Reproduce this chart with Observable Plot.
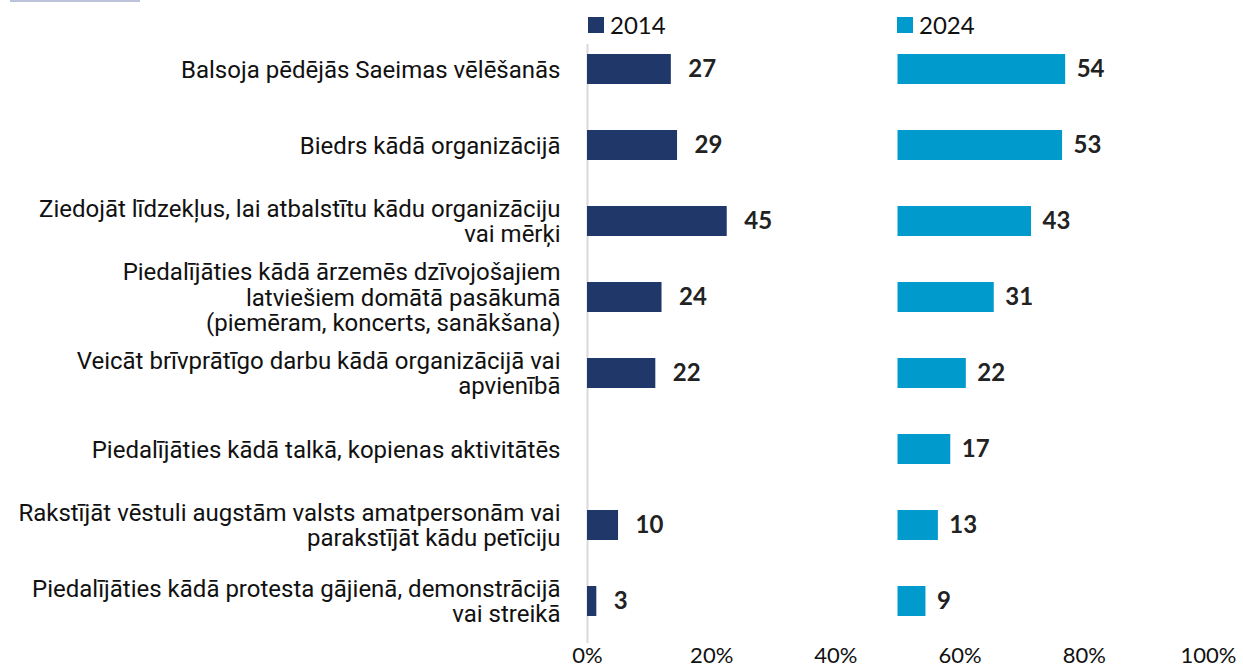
<!DOCTYPE html>
<html>
<head>
<meta charset="utf-8">
<script src="https://cdn.jsdelivr.net/npm/d3@7"></script>
<script src="https://cdn.jsdelivr.net/npm/@observablehq/plot@0.6"></script>
<style>
  html, body { margin: 0; padding: 0; background: #fff; }
  #wrap { position: relative; width: 1243px; height: 670px; overflow: hidden; }
  #topline { position: absolute; left: 10px; top: 0; width: 130px; height: 2px; background: #bcc3da; }
  .leg { position: absolute; top: 10px; display: flex; align-items: center; font-family: Lato, "Open Sans", sans-serif; font-size: 24px; color: #111; }
  .leg span.sw { display: inline-block; width: 16px; height: 16px; margin-right: 6px; }
</style>
</head>
<body>
<div id="wrap">
  <div id="topline"></div>
  <div id="chart"></div>
  <div class="leg" style="left:588px"><span class="sw" style="background:#1f3769"></span>2014</div>
  <div class="leg" style="left:897px"><span class="sw" style="background:#009acd"></span>2024</div>
</div>
<script>
const categories = [
  "Balsoja pēdējās Saeimas vēlēšanās",
  "Biedrs kādā organizācijā",
  "Ziedojāt līdzekļus, lai atbalstītu kādu organizāciju\nvai mērķi",
  "Piedalījāties kādā ārzemēs dzīvojošajiem\nlatviešiem domātā pasākumā\n(piemēram, koncerts, sanākšana)",
  "Veicāt brīvprātīgo darbu kādā organizācijā vai\napvienībā",
  "Piedalījāties kādā talkā, kopienas aktivitātēs",
  "Rakstījāt vēstuli augstām valsts amatpersonām vai\nparakstījāt kādu petīciju",
  "Piedalījāties kādā protesta gājienā, demonstrācijā\nvai streikā"
];
const values2014 = [27, 29, 45, 24, 22, null, 10, 3];
const values2024 = [54, 53, 43, 31, 22, 17, 13, 9];
const xTicks = [0, 20, 40, 60, 80, 100];
const color2014 = "#1f3769";
const color2024 = "#009acd";

const rows2014 = categories.map((c, i) => ({cat: c, v: values2014[i]})).filter(d => d.v != null);
const rows2024 = categories.map((c, i) => ({cat: c, v: values2024[i]}));

const chart = Plot.plot({
  width: 1243,
  height: 670,
  marginLeft: 587,
  marginRight: 35,
  marginTop: 30,
  marginBottom: 29,
  style: {fontFamily: "Lato, 'Open Sans', sans-serif", color: "#111", background: "transparent"},
  x: {domain: [0, 100], ticks: xTicks, tickFormat: d => d + "%", tickSize: 0, tickPadding: 6, label: null},
  y: {domain: categories, paddingInner: 0.6, paddingOuter: 0.3, axis: null},
  marks: [
    Plot.ruleX([0], {stroke: "#d9d9d9", strokeWidth: 2, insetTop: 14, insetBottom: -2}),
    Plot.axisX({ticks: xTicks, tickFormat: d => d + "%", tickSize: 0, tickPadding: 6, fontSize: 22, anchor: "bottom", label: null}),
    Plot.barX(rows2014, {y: "cat", x1: 0, x2: d => d.v / 2, fill: color2014}),
    Plot.barX(rows2024, {y: "cat", x1: 50, x2: d => 50 + d.v / 2, fill: color2024}),
    Plot.text(rows2014, {y: "cat", x: d => d.v / 2, text: d => String(d.v), textAnchor: "start", dx: 17, fontSize: 24, fontWeight: "bold", fill: "#222"}),
    Plot.text(rows2024, {y: "cat", x: d => 50 + d.v / 2, text: d => String(d.v), textAnchor: "start", dx: 11, fontSize: 24, fontWeight: "bold", fill: "#222"}),
    Plot.text(categories, {y: d => d, x: 0, text: d => d, dx: -27, textAnchor: "end", fontSize: 24, lineHeight: 1.06, fill: "#111", fontFamily: "Roboto, sans-serif"})
  ]
});
document.getElementById("chart").appendChild(chart);
</script>
</body>
</html>
